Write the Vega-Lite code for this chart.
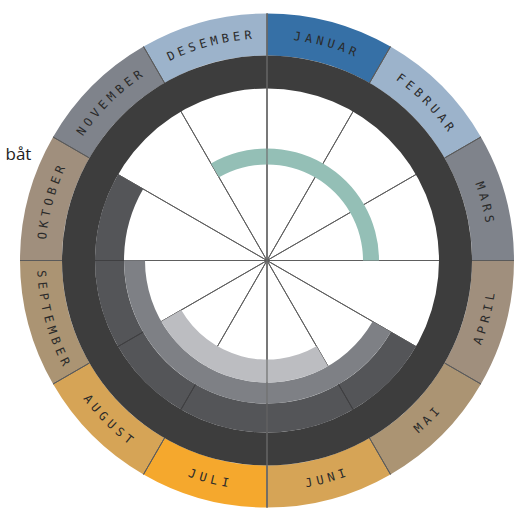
{
  "$schema": "https://vega.github.io/schema/vega-lite/v6.json",
  "width": 510,
  "height": 495,
  "autosize": {"type": "none"},
  "padding": {"left": 12, "top": 13, "right": 0, "bottom": 0},
  "background": "white",
  "view": {"stroke": null},
  "datasets": {
    "months": [
      {"month": "JANUAR", "start": 0, "end": 30},
      {"month": "FEBRUAR", "start": 30, "end": 60},
      {"month": "MARS", "start": 60, "end": 90},
      {"month": "APRIL", "start": 90, "end": 120},
      {"month": "MAI", "start": 120, "end": 150},
      {"month": "JUNI", "start": 150, "end": 180},
      {"month": "JULI", "start": 180, "end": 210},
      {"month": "AUGUST", "start": 210, "end": 240},
      {"month": "SEPTEMBER", "start": 240, "end": 270},
      {"month": "OKTOBER", "start": 270, "end": 300},
      {"month": "NOVEMBER", "start": 300, "end": 330},
      {"month": "DESEMBER", "start": 330, "end": 360}
    ],
    "bands": [
      {"band": "ring", "start": 0, "end": 360},
      {"band": "middels", "start": 120, "end": 270},
      {"band": "lys", "start": 150, "end": 240},
      {"band": "båt", "start": -30, "end": 90}
    ],
    "labels": [{"label": "båt", "angle": 293}]
  },
  "layer": [
    {
      "data": {"name": "months"},
      "mark": {"type": "arc", "radius": 247, "radius2": 205},
      "encoding": {
        "theta": {"field": "start", "type": "quantitative", "stack": null, "scale": {"domain": [0, 360], "range": [0, 6.283185307]}},
        "theta2": {"field": "end"},
        "color": {
          "field": "month", "type": "nominal", "legend": null,
          "scale": {
            "domain": ["JANUAR", "FEBRUAR", "MARS", "APRIL", "MAI", "JUNI", "JULI", "AUGUST", "SEPTEMBER", "OKTOBER", "NOVEMBER", "DESEMBER"],
            "range": ["#3670a6", "#9cb3cb", "#7f838b", "#a08f7d", "#ab9473", "#d6a456", "#f5a82d", "#d6a456", "#ab9473", "#a08f7d", "#7f838b", "#9cb3cb"]
          }
        }
      }
    },
    {
      "data": {"name": "months"},
      "mark": {"type": "arc", "radius": 247, "radius2": 205, "fill": null, "stroke": "#5a5a5a", "strokeWidth": 1},
      "encoding": {
        "theta": {"field": "start", "type": "quantitative", "stack": null},
        "theta2": {"field": "start"}
      }
    },
    {
      "data": {"name": "months"},
      "mark": {"type": "arc", "radius": 173, "radius2": 0, "fill": null, "stroke": "#5e5e5e", "strokeWidth": 1},
      "encoding": {
        "theta": {"field": "start", "type": "quantitative", "stack": null},
        "theta2": {"field": "start"}
      }
    },
    {
      "data": {"name": "bands"},
      "transform": [{"filter": "datum.band === 'ring'"}],
      "mark": {"type": "arc", "radius": 205, "radius2": 172, "color": "#3d3d3d"},
      "encoding": {
        "theta": {"field": "start", "type": "quantitative", "stack": null},
        "theta2": {"field": "end"}
      }
    },
    {
      "data": {"name": "months"},
      "transform": [{"filter": "datum.start >= 120 && datum.start < 300"}],
      "mark": {"type": "arc", "radius": 172, "radius2": 143, "color": "#545558"},
      "encoding": {
        "theta": {"field": "start", "type": "quantitative", "stack": null},
        "theta2": {"field": "end"}
      }
    },
    {
      "data": {"name": "months"},
      "transform": [{"filter": "datum.start >= 150 && datum.start <= 270"}],
      "mark": {"type": "arc", "radius": 172, "radius2": 143, "fill": null, "stroke": "#3f3f41", "strokeWidth": 1},
      "encoding": {
        "theta": {"field": "start", "type": "quantitative", "stack": null},
        "theta2": {"field": "start"}
      }
    },
    {
      "data": {"name": "bands"},
      "transform": [{"filter": "datum.band === 'middels'"}],
      "mark": {"type": "arc", "radius": 143, "radius2": 122, "color": "#7e8085"},
      "encoding": {
        "theta": {"field": "start", "type": "quantitative", "stack": null},
        "theta2": {"field": "end"}
      }
    },
    {
      "data": {"name": "bands"},
      "transform": [{"filter": "datum.band === 'lys'"}],
      "mark": {"type": "arc", "radius": 122, "radius2": 99, "color": "#bcbdc1"},
      "encoding": {
        "theta": {"field": "start", "type": "quantitative", "stack": null},
        "theta2": {"field": "end"}
      }
    },
    {
      "data": {"name": "bands"},
      "transform": [{"filter": "datum.band === 'båt'"}],
      "mark": {"type": "arc", "radius": 112, "radius2": 96, "color": "#94bfb6"},
      "encoding": {
        "theta": {"field": "start", "type": "quantitative", "stack": null},
        "theta2": {"field": "end"}
      }
    },
    {
      "data": {"name": "months"},
      "transform": [{"filter": "datum.start === 0 || datum.start === 180"}],
      "mark": {"type": "arc", "radius": 247, "radius2": 0, "fill": null, "stroke": "#707070", "strokeWidth": 1.2},
      "encoding": {
        "theta": {"field": "start", "type": "quantitative", "stack": null},
        "theta2": {"field": "start"}
      }
    },
    {
      "data": {"name": "months"},
      "transform": [
        {"calculate": "split(datum.month, '')", "as": "letters"},
        {"flatten": ["letters"], "as": ["letter"]},
        {"window": [{"op": "row_number", "as": "i"}], "groupby": ["month"]},
        {"calculate": "(datum.start + datum.end) / 2", "as": "mid"},
        {"calculate": "datum.mid < 90 || datum.mid > 270", "as": "top"},
        {"calculate": "(datum.i - (length(datum.month) + 1) / 2) * 2.9", "as": "off"},
        {"calculate": "datum.top ? datum.mid + datum.off : datum.mid - datum.off", "as": "pos"},
        {"calculate": "datum.top ? datum.pos : datum.pos - 180", "as": "rot"}
      ],
      "mark": {"type": "text", "radius": 226, "font": "DejaVu Sans Mono", "fontSize": 12, "color": "#2a2a2a", "align": "center", "baseline": "middle"},
      "encoding": {
        "theta": {"field": "pos", "type": "quantitative", "stack": null},
        "angle": {"field": "rot", "type": "quantitative", "scale": null},
        "text": {"field": "letter"}
      }
    },
    {
      "data": {"name": "labels"},
      "mark": {"type": "text", "radius": 270, "font": "Open Sans", "fontSize": 17, "color": "#222222", "align": "center", "baseline": "middle"},
      "encoding": {
        "theta": {"field": "angle", "type": "quantitative", "stack": null},
        "text": {"field": "label"}
      }
    }
  ]
}
